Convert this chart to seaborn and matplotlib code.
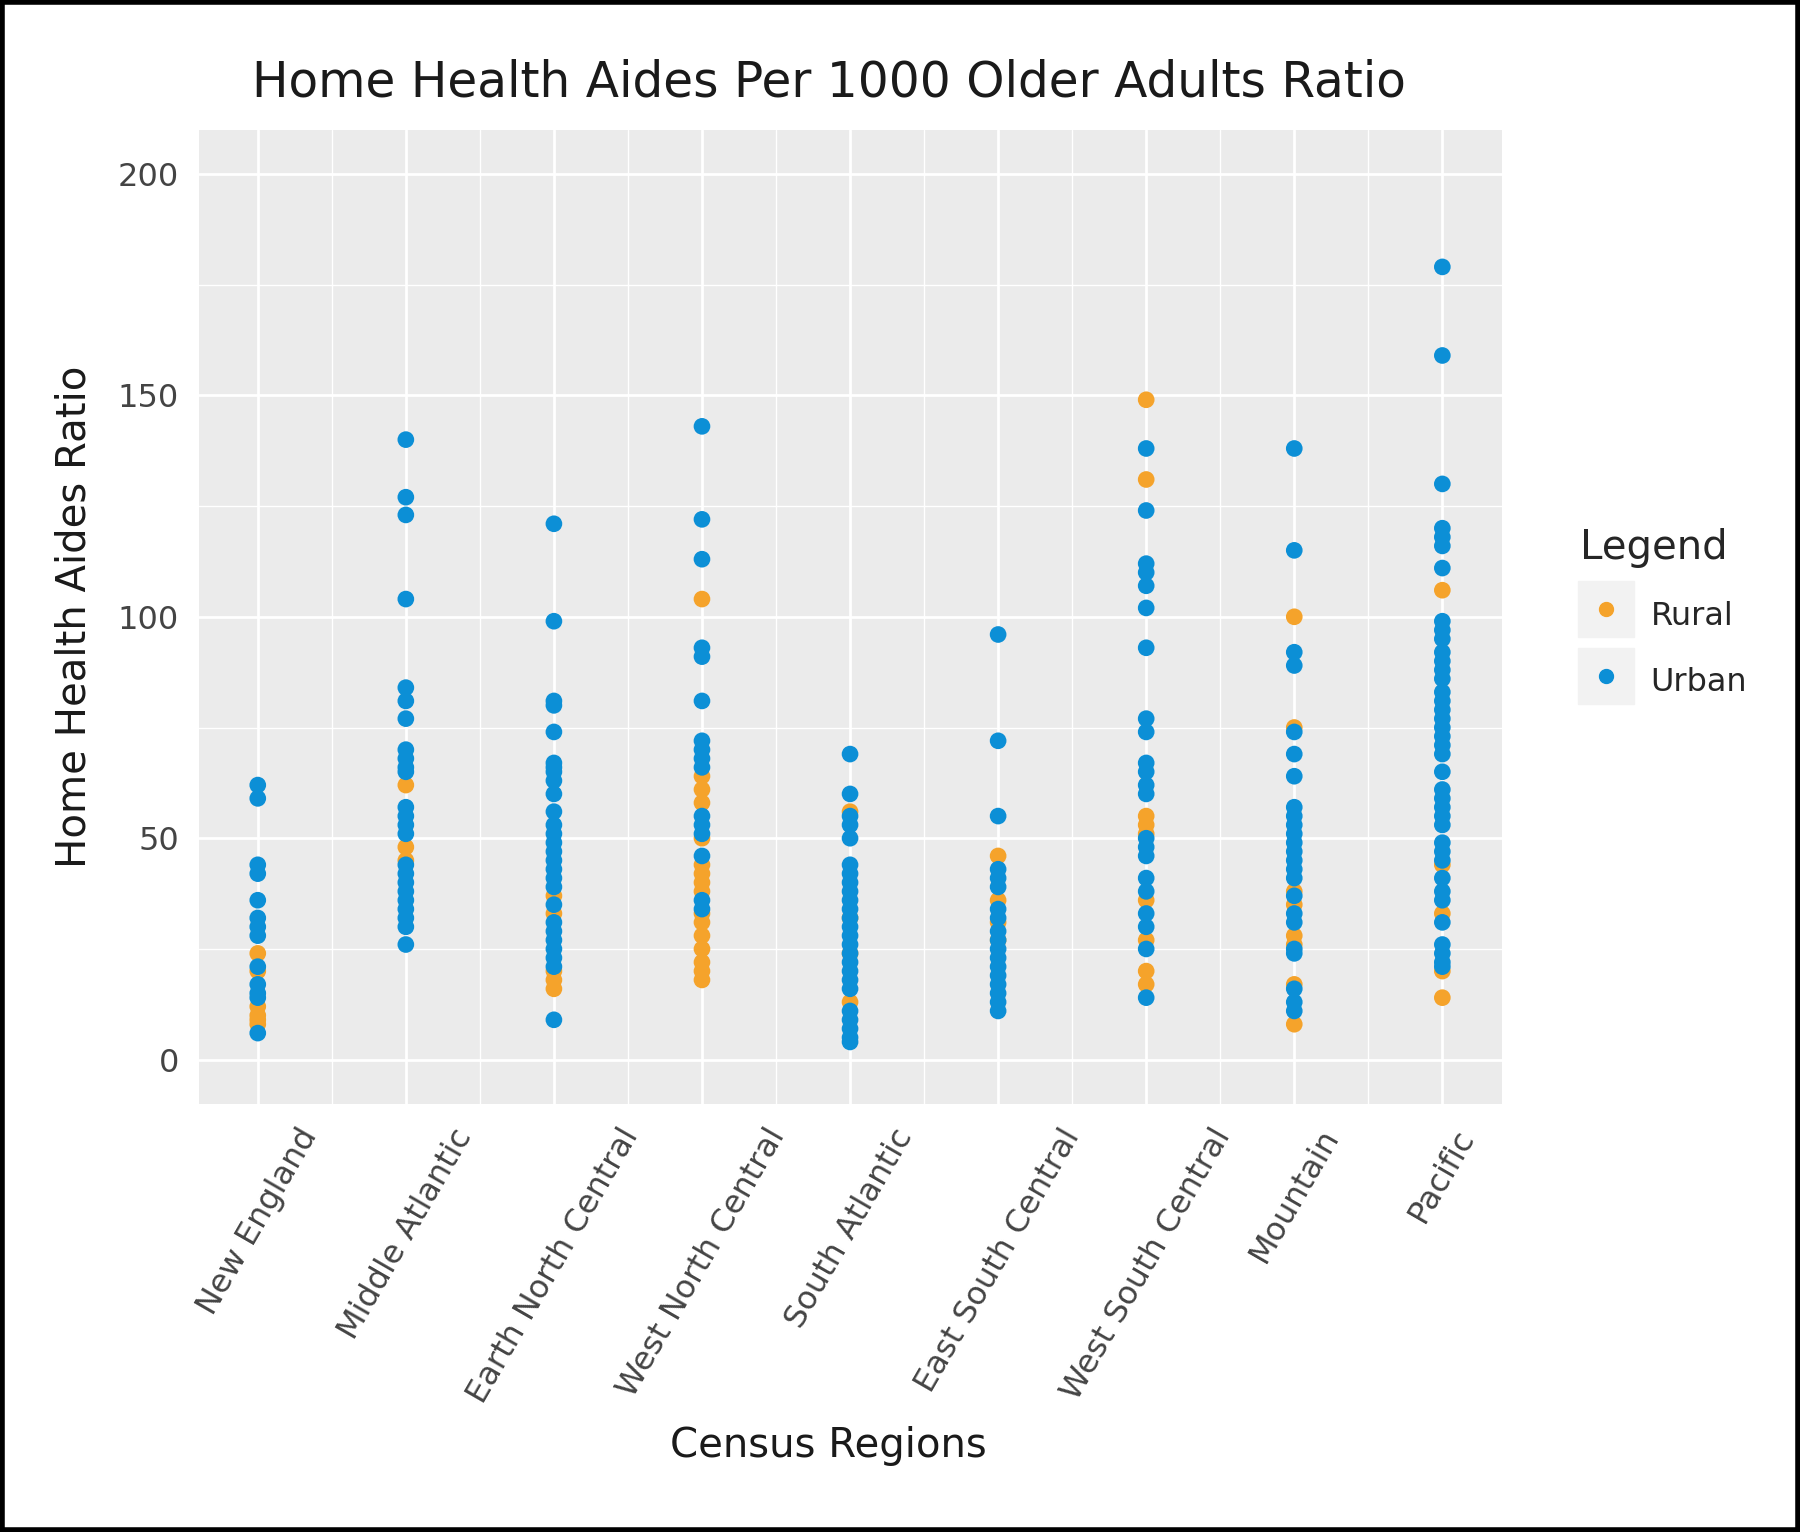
import pandas as pd
import seaborn as sns
import matplotlib.pyplot as plt
from matplotlib.lines import Line2D
from matplotlib.legend_handler import HandlerTuple
from matplotlib.patches import Rectangle
from matplotlib.ticker import MultipleLocator, FixedLocator

regions = ["New England", "Middle Atlantic", "Earth North Central", "West North Central",
           "South Atlantic", "East South Central", "West South Central", "Mountain", "Pacific"]

rural = {
    "New England": [24, 20, 12, 10, 9, 8],
    "Middle Atlantic": [62, 48, 45],
    "Earth North Central": [37, 33, 20, 18, 16],
    "West North Central": [104, 64, 61, 58, 50, 44, 42, 40, 38, 33, 31, 28, 25, 22, 20, 18],
    "South Atlantic": [56, 32, 24, 13],
    "East South Central": [46, 36, 31, 27],
    "West South Central": [149, 131, 55, 53, 51, 36, 27, 20, 17],
    "Mountain": [100, 75, 38, 35, 28, 26, 17, 8],
    "Pacific": [106, 44, 33, 20, 14],
}

urban = {
    "New England": [62, 59, 44, 42, 36, 32, 30, 28, 21, 17, 15, 14, 6],
    "Middle Atlantic": [140, 127, 123, 104, 84, 81, 77, 70, 68, 66, 65, 57, 55, 53, 51,
                        44, 42, 40, 38, 36, 34, 32, 30, 26],
    "Earth North Central": [121, 99, 81, 80, 74, 67, 66, 65, 63, 60, 56, 53, 51, 49, 47,
                            45, 43, 41, 39, 35, 31, 29, 27, 25, 23, 21, 9],
    "West North Central": [143, 122, 113, 93, 91, 81, 72, 70, 68, 66, 55, 53, 51, 46, 36, 34],
    "South Atlantic": [69, 60, 55, 53, 50, 44, 42, 40, 38, 36, 34, 32, 30, 28, 26, 24, 22,
                       20, 18, 16, 11, 9, 7, 5, 4],
    "East South Central": [96, 72, 55, 43, 41, 39, 34, 32, 29, 27, 25, 23, 21, 19, 17, 15, 13, 11],
    "West South Central": [138, 124, 112, 110, 107, 102, 93, 77, 74, 67, 65, 62, 60, 50, 48,
                           46, 41, 38, 33, 30, 25, 14],
    "Mountain": [138, 115, 92, 89, 74, 69, 64, 57, 55, 53, 51, 49, 47, 45, 43, 41, 37, 33,
                 31, 25, 24, 16, 13, 11],
    "Pacific": [179, 159, 130, 120, 118, 116, 111, 99, 97, 95, 92, 90, 88, 86, 83, 81, 79,
                77, 75, 73, 71, 69, 65, 61, 59, 57, 55, 53, 49, 47, 45, 41, 38, 36, 31, 26,
                24, 22, 21],
}

COLORS = {"Rural": "#F5A32B", "Urban": "#0C8FD6"}

rows = []
for group, table in [("Rural", rural), ("Urban", urban)]:
    for region in regions:
        for v in table[region]:
            rows.append({"region": region, "ratio": v, "Legend": group})
df = pd.DataFrame(rows)

sns.set_theme(style="darkgrid", rc={
    "axes.facecolor": "#EBEBEB",
    "grid.color": "white",
    "axes.edgecolor": "none",
})
plt.rcParams["font.family"] = ["DejaVu Sans"]

fig = plt.figure(figsize=(18, 15.32), dpi=100)
ax = fig.add_axes([0.1103, 0.2794, 0.7239, 0.636])

sns.stripplot(data=df, x="region", y="ratio", hue="Legend", order=regions,
              hue_order=["Rural", "Urban"], palette=COLORS, jitter=False,
              s=12, linewidth=0, ax=ax, legend=False, zorder=3)

ax.set_xlim(-0.4, 8.4)
ax.set_ylim(-10, 210)
ax.yaxis.set_major_locator(MultipleLocator(50))
ax.yaxis.set_minor_locator(MultipleLocator(25))
ax.xaxis.set_minor_locator(FixedLocator([i + 0.5 for i in range(8)]))
ax.grid(which="major", color="white", linewidth=2.0)
ax.grid(which="minor", color="white", linewidth=1.0)
ax.set_axisbelow(True)
for s in ax.spines.values():
    s.set_visible(False)

ax.tick_params(axis="both", which="major", length=8, width=2.2, color="#333333",
               labelsize=23, labelcolor="#444444", direction="out", pad=6)
ax.tick_params(which="minor", length=0)
for lbl in ax.get_xticklabels():
    lbl.set_rotation(60)
    lbl.set_ha("center")

ax.set_xlabel("Census Regions", fontsize=29, color="#1A1A1A")
ax.xaxis.set_label_coords(0.4837, -0.331)
ax.set_ylabel("Home Health Aides Ratio", fontsize=29, color="#1A1A1A")
ax.yaxis.set_label_coords(-0.08, 0.5)

fig.text(0.4605, 0.946, "Home Health Aides Per 1000 Older Adults Ratio",
         ha="center", va="center", fontsize=35, color="#1A1A1A")

handles = []
for g in ["Rural", "Urban"]:
    bg = Line2D([], [], marker="s", ms=40, color="#F2F2F2", ls="")
    dot = Line2D([], [], marker="o", ms=10, color=COLORS[g], ls="")
    handles.append((bg, dot))
leg = ax.legend(handles, ["Rural", "Urban"],
                handler_map={tuple: HandlerTuple(ndivide=1, pad=0)},
                title="Legend", loc="upper left", bbox_to_anchor=(0.862, 0.674),
                bbox_transform=fig.transFigure, frameon=False, fontsize=23,
                title_fontsize=29, alignment="left", handlelength=1.6,
                handleheight=1.6, labelspacing=0.8, handletextpad=0.6)

fig.add_artist(Rectangle((0.001, 0.001), 0.998, 0.998, transform=fig.transFigure,
                         fill=False, edgecolor="black", linewidth=4))

fig.savefig("out.png", dpi=100)
